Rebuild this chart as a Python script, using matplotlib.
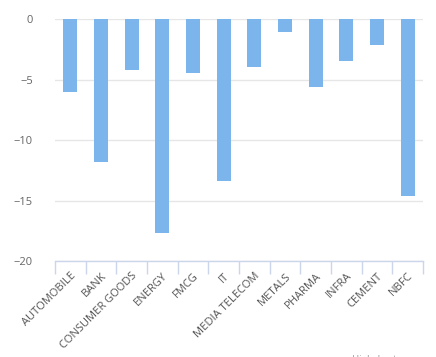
import matplotlib
matplotlib.use("Agg")
import matplotlib.pyplot as plt
import numpy as np

categories = ["AUTOMOBILE", "BANK", "CONSUMER GOODS", "ENERGY", "FMCG", "IT",
              "MEDIA TELECOM", "METALS", "PHARMA", "INFRA", "CEMENT", "NBFC"]
values = [-6.0, -11.8, -4.15, -17.65, -4.4, -13.35, -3.9, -1.0, -5.55, -3.4, -2.15, -14.6]
yticks = [0, -5, -10, -15, -20]

plt.rcParams['font.family'] = ['Open Sans', 'DejaVu Sans']

fig = plt.figure(figsize=(4.36, 3.57), dpi=100)
ax = fig.add_axes([55/436, 1-261/357, (423-55)/436, (261-19.5)/357])

x = np.arange(len(categories))
ax.bar(x, values, width=0.46, color="#7cb5ec", zorder=3)

ax.set_xlim(-0.5, len(categories)-0.5)
ax.set_ylim(-20, 0)
ax.set_yticks(yticks)
ax.set_yticklabels([str(v) if v >= 0 else "\u2212" + str(-v) for v in yticks],
                   fontsize=8, color="#666666")
ax.tick_params(axis='y', length=0, pad=16)
ax.grid(axis='y', color="#e6e6e6", linewidth=1, zorder=0)

# category ticks at boundaries
ax.set_xticks(np.arange(len(categories)+1) - 0.5)
ax.set_xticklabels([])
ax.tick_params(axis='x', length=9, width=1, color="#ccd6eb", direction='out')
ax.set_xticks(x, minor=True)
ax.set_xticklabels(categories, minor=True, rotation=45, ha='right',
                   rotation_mode='anchor', fontsize=8, color="#555555")
ax.tick_params(axis='x', which='minor', length=0, pad=7)

for s in ["top", "right", "left"]:
    ax.spines[s].set_visible(False)
ax.spines["bottom"].set_color("#ccd6eb")
ax.spines["bottom"].set_linewidth(1)

ax.set_ylabel("Values", fontsize=8, color="#666666", labelpad=10)

fig.text(352/436, 1-355/357, "Highcharts.com", fontsize=7, color="#999999",
         ha='left', va='top')

fig.savefig("out.png", dpi=100, facecolor="white")
